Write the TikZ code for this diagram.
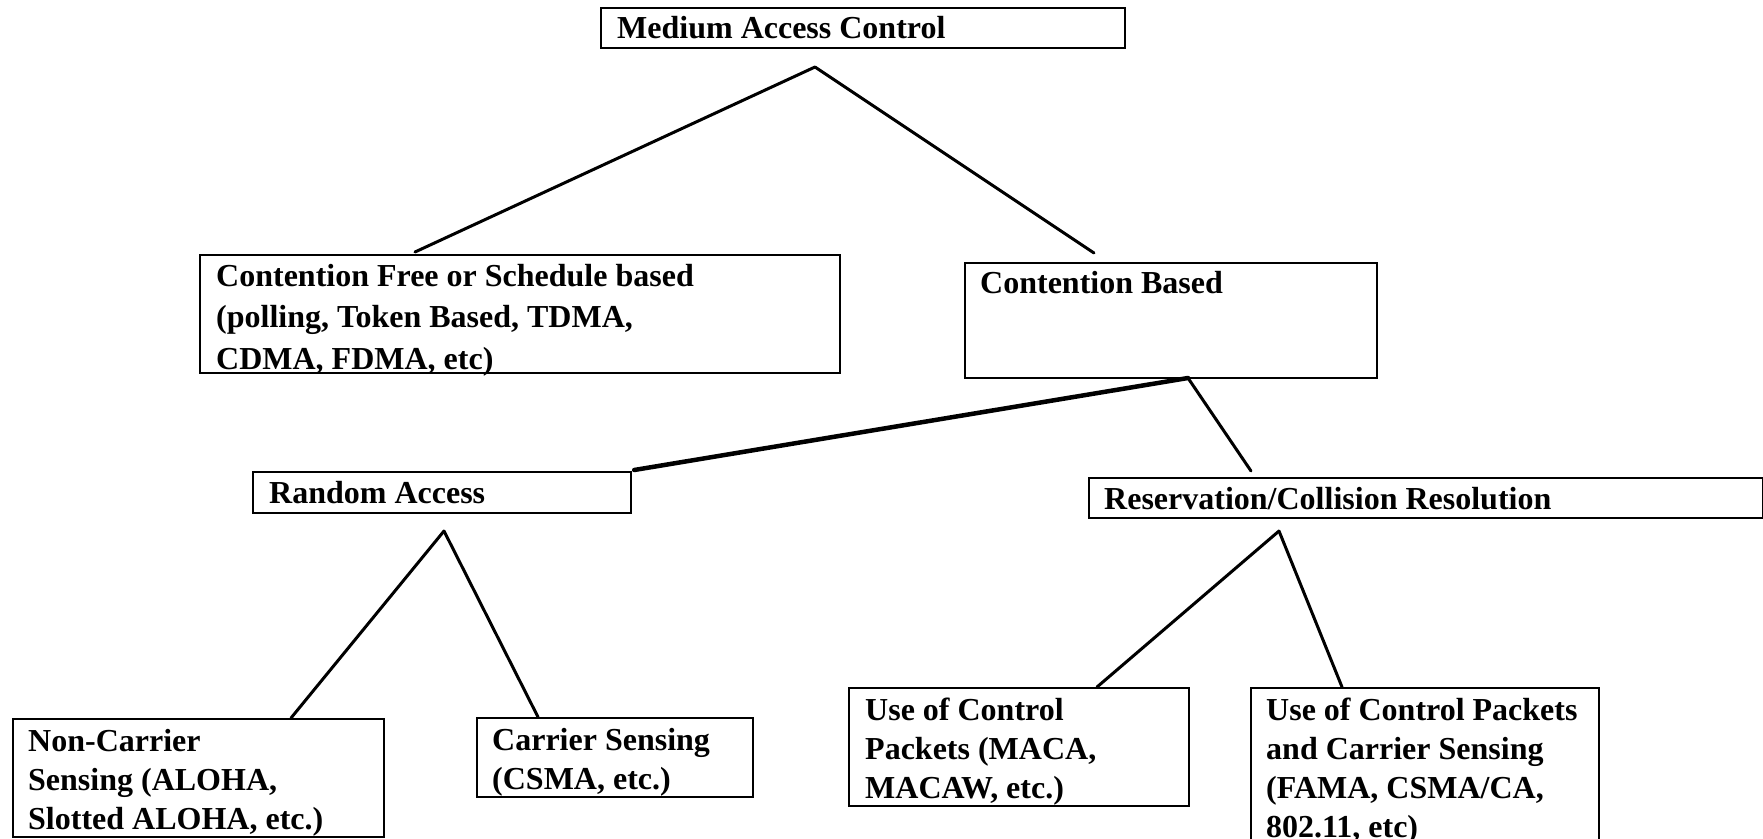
\documentclass[tikz,border=0pt]{standalone}
\usepackage{fontspec}
\setmainfont{Liberation Serif}
\usetikzlibrary{calc}
\tikzset{
  box/.style={draw, line width=2.2pt, rectangle, inner sep=0pt, anchor=north west},
  lbl/.style={anchor=base west, inner sep=0pt, font=\fontsize{32}{40}\selectfont\bfseries},
  conn/.style={line width=3pt, line cap=round},
}
\newcommand{\ml}[2]{{\fontsize{32}{#1}\selectfont\bfseries\renewcommand\arraystretch{1}\begin{tabular}[t]{@{}l@{}}#2\end{tabular}}}
\begin{document}
\begin{tikzpicture}[x=1pt,y=-1pt]
\useasboundingbox (0,0) rectangle (1763,838);
\fill[white] (0,0) rectangle (1763,838);
% boxes
\node[box, minimum width=524, minimum height=40] (mac) at (600,7) {};
\node[box, minimum width=640, minimum height=118] (cf) at (199,254) {};
\node[box, minimum width=412, minimum height=115] (cb) at (964,262) {};
\node[box, minimum width=378, minimum height=41] (ra) at (252,471) {};
\node[box, minimum width=674, minimum height=40] (rc) at (1088,477) {};
\node[box, minimum width=371, minimum height=118] (nc) at (12,718) {};
\node[box, minimum width=276, minimum height=79] (cs) at (476,717) {};
\node[box, minimum width=340, minimum height=118] (uc) at (848,687) {};
\node[box, minimum width=348, minimum height=170] (ucs) at (1250,687) {};
% labels
\node[lbl] (tmac) at ($(mac.north west)+(17,31)$) {Medium Access Control};
\node[lbl, anchor=base west] (tcf) at ($(cf.north west)+(17,32)$) {\ml{41.6}{Contention Free or Schedule based\\(polling, Token Based, TDMA,\\CDMA, FDMA, etc)}};
\node[lbl] (tcb) at ($(cb.north west)+(16,31)$) {Contention Based};
\node[lbl] (tra) at ($(ra.north west)+(17,32)$) {Random Access};
\node[lbl] (trc) at ($(rc.north west)+(16,32)$) {Reservation/Collision Resolution};
\node[lbl] (tnc) at ($(nc.north west)+(16,33)$) {\ml{39}{Non-Carrier\\Sensing (ALOHA,\\Slotted ALOHA, etc.)}};
\node[lbl] (tcs) at ($(cs.north west)+(16,33)$) {\ml{39}{Carrier Sensing\\(CSMA, etc.)}};
\node[lbl] (tuc) at ($(uc.north west)+(17,33)$) {\ml{39}{Use of Control\\Packets (MACA,\\MACAW, etc.)}};
\node[lbl] (tucs) at ($(ucs.north west)+(16,33)$) {\ml{39}{Use of Control Packets\\and Carrier Sensing\\(FAMA, CSMA/CA,\\802.11, etc)}};
% apex coordinates
\coordinate (a1) at (815,67);
\coordinate (a2) at (1188,378);
\coordinate (a3) at (444,531);
\coordinate (a4) at (1279,531);
% connectors
\draw[conn] (a1) -- ($(cf.north west)+(216,-2)$);
\draw[conn] (a1) -- ($(cb.north west)+(130,-9)$);
\draw[conn, line width=4.5pt] (a2) -- ($(ra.north east)+(2,-1)$);
\draw[conn] (a2) -- ($(rc.north west)+(163,-6)$);
\draw[conn] (a3) -- ($(nc.north west)+(279,0)$);
\draw[conn] (a3) -- ($(cs.north west)+(62,0)$);
\draw[conn] (a4) -- ($(uc.north west)+(249,0)$);
\draw[conn] (a4) -- ($(ucs.north west)+(92,0)$);
\end{tikzpicture}
\end{document}
